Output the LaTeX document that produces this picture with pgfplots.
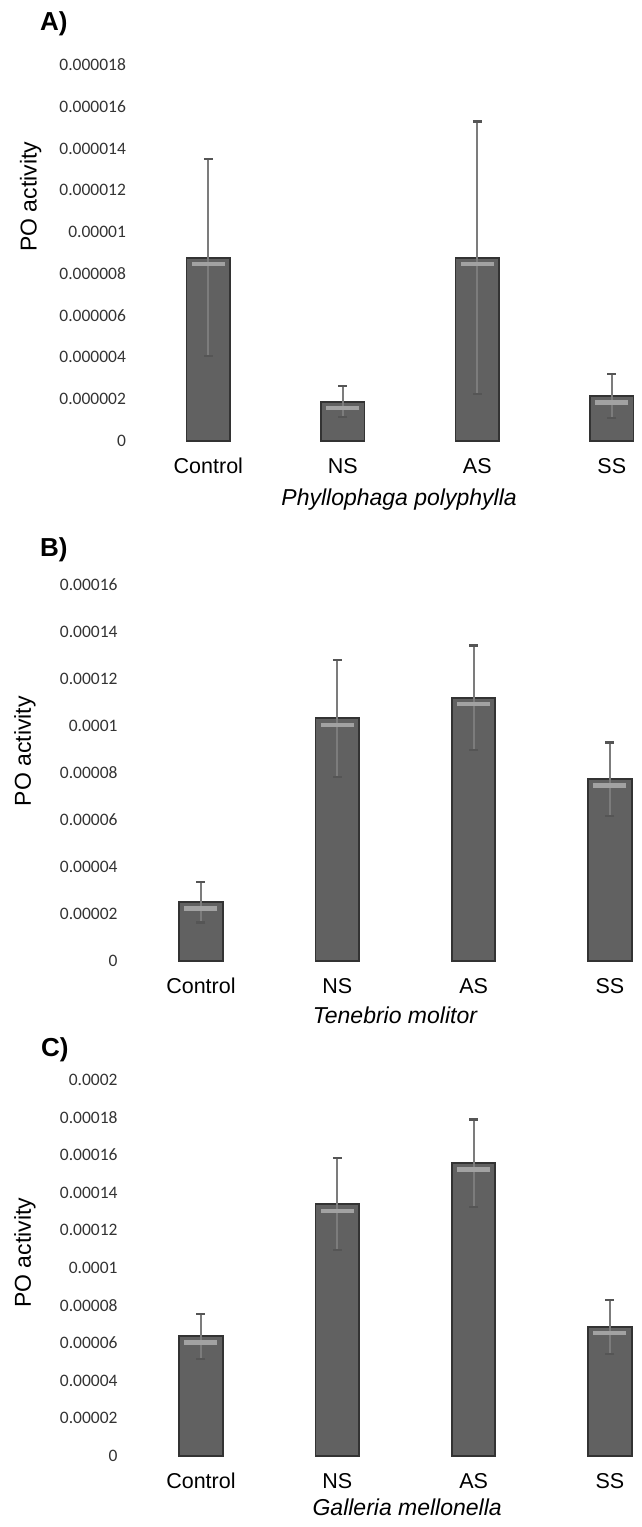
\documentclass[border=0pt]{standalone}
\usepackage{fontspec}
\setmainfont{Liberation Sans}
\newfontfamily\calibri{Carlito}
\usepackage{pgfplots}
\usepackage{pgfplotstable}
\pgfplotsset{compat=1.18}
\definecolor{barfill}{HTML}{616161}
\definecolor{baredge}{HTML}{333333}
\definecolor{barhl}{HTML}{A2A2A2}
\definecolor{errline}{HTML}{7C7C7C}
\definecolor{errcap}{HTML}{555555}

\pgfplotstableread{
x y e
0 8.77e-6 4.73e-6
1 1.87e-6 0.74e-6
2 8.77e-6 6.52e-6
3 2.14e-6 1.05e-6
}\dataA
\pgfplotstableread{
x y e
0 2.49e-5 0.86e-5
1 10.32e-5 2.49e-5
2 11.20e-5 2.22e-5
3 7.73e-5 1.56e-5
}\dataB
\pgfplotstableread{
x y e
0 6.36e-5 1.20e-5
1 13.38e-5 2.45e-5
2 15.57e-5 2.33e-5
3 6.87e-5 1.44e-5
}\dataC

\pgfplotsset{
 panel/.style={
  scale only axis, height=375.7pt, ymin=0, xmin=-0.5,
  axis line style={draw=none}, major tick length=0pt, tick style={draw=none},
  scaled y ticks=false,
  xtick={0,1,2,3}, xticklabels={Control,NS,AS,SS},
  xticklabel style={font=\fontsize{21.5}{24}\selectfont, anchor=base, inner sep=0pt, yshift=-33pt},
  yticklabel style={font=\calibri\fontsize{17.5}{20}\selectfont, anchor=east, inner sep=0pt, xshift=-15pt, text=black!80},
  ylabel={PO activity},
  clip=false,
 },
 bars/.style={ybar, bar width=43.5pt, fill=barfill, draw=baredge, line width=1.8pt},
 hl/.style={only marks, mark=-, mark size=16.5pt, mark options={line width=4.5pt, draw=barhl, yshift=-6.5pt}},
 errs/.style={draw=none, mark=none, error bars/.cd, y dir=both, y explicit,
   error bar style={line width=2pt, draw=errline},
   error mark options={rotate=90, mark size=4.5pt, line width=2.2pt, draw=errcap}},
}

\begin{document}
\begin{tikzpicture}
\useasboundingbox (0pt,0pt) rectangle (641pt,-1527pt);

% Panel A
\begin{axis}[panel, at={(141.1pt,-440.7pt)}, anchor=south west, width=500pt, xmax=3.218, ymax=18e-6,
  ytick={0,2e-6,4e-6,6e-6,8e-6,10e-6,12e-6,14e-6,16e-6,18e-6},
  yticklabels={0,0.000002,0.000004,0.000006,0.000008,0.00001,0.000012,0.000014,0.000016,0.000018},
  every axis y label/.style={at={(axis description cs:-0.2088,0.649)}, rotate=90, anchor=base, font=\fontsize{23}{26}\selectfont},
  xlabel={Phyllophaga polyphylla},
  every axis x label/.style={at={(axis description cs:0.516,0)}, anchor=base, yshift=-64.3pt, font=\fontsize{23}{26}\selectfont\itshape}]
\addplot[bars] table[x=x,y=y] {\dataA};
\addplot[hl] table[x=x,y=y] {\dataA};
\addplot[errs] table[x=x,y=y,y error=e] {\dataA};
\end{axis}

% Panel B
\begin{axis}[panel, at={(132.8pt,-960.7pt)}, anchor=south west, width=508.1pt, xmax=3.227, ymax=16e-5,
  ytick={0,2e-5,4e-5,6e-5,8e-5,10e-5,12e-5,14e-5,16e-5},
  yticklabels={0,0.00002,0.00004,0.00006,0.00008,0.0001,0.00012,0.00014,0.00016},
  every axis y label/.style={at={(axis description cs:-0.2004,0.558)}, rotate=90, anchor=base, font=\fontsize{23}{26}\selectfont},
  xlabel={Tenebrio molitor},
  every axis x label/.style={at={(axis description cs:0.516,0)}, anchor=base, yshift=-62.3pt, font=\fontsize{23}{26}\selectfont\itshape}]
\addplot[bars] table[x=x,y=y] {\dataB};
\addplot[hl] table[x=x,y=y] {\dataB};
\addplot[errs] table[x=x,y=y,y error=e] {\dataB};
\end{axis}

% Panel C
\begin{axis}[panel, at={(132.8pt,-1455.7pt)}, anchor=south west, width=508.1pt, xmax=3.227, ymax=20e-5,
  ytick={0,2e-5,4e-5,6e-5,8e-5,10e-5,12e-5,14e-5,16e-5,18e-5,20e-5},
  yticklabels={0,0.00002,0.00004,0.00006,0.00008,0.0001,0.00012,0.00014,0.00016,0.00018,0.0002},
  every axis y label/.style={at={(axis description cs:-0.2004,0.54)}, rotate=90, anchor=base, font=\fontsize{23}{26}\selectfont},
  xlabel={Galleria mellonella},
  every axis x label/.style={at={(axis description cs:0.540,0)}, anchor=base, yshift=-59.3pt, font=\fontsize{23}{26}\selectfont\itshape}]
\addplot[bars] table[x=x,y=y] {\dataC};
\addplot[hl] table[x=x,y=y] {\dataC};
\addplot[errs] table[x=x,y=y,y error=e] {\dataC};
\end{axis}

\node[anchor=base west, inner sep=0pt, font=\fontsize{26}{28}\selectfont\bfseries] at (40pt,-30pt) {A)};
\node[anchor=base west, inner sep=0pt, font=\fontsize{26}{28}\selectfont\bfseries] at (40pt,-556pt) {B)};
\node[anchor=base west, inner sep=0pt, font=\fontsize{26}{28}\selectfont\bfseries] at (41pt,-1056pt) {C)};
\end{tikzpicture}
\end{document}
